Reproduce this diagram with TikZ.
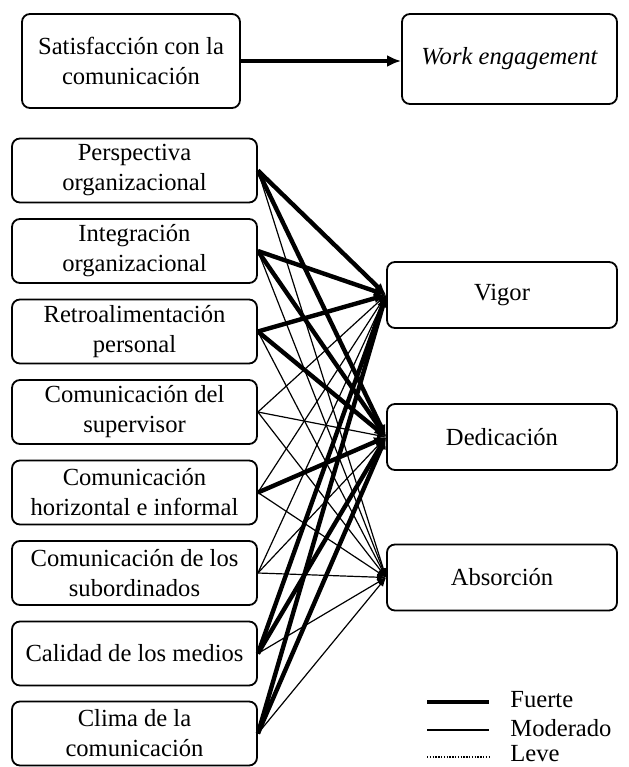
\documentclass[tikz,border=0pt]{standalone}
\usepackage{fontspec}
\setmainfont{Liberation Serif}
\usetikzlibrary{arrows.meta}
\begin{document}
\begin{tikzpicture}[x=0.5pt,y=-0.5pt,
  box/.style={draw,line width=0.9pt,rounded corners=4pt,align=center,inner sep=0pt,font=\fontsize{12.3}{15}\selectfont},
  lbox/.style={box,minimum width=122.5pt,minimum height=32pt},
  rbox/.style={box,minimum width=115pt,minimum height=33pt},
  strong/.style={line width=2.2pt,-{Latex[length=6pt,width=5pt]}},
  moderate/.style={line width=0.6pt,-{Latex[length=4.5pt,width=3.5pt]}},
  leve/.style={line width=0.8pt,dash pattern=on 0.7pt off 0.7pt},
  legtext/.style={anchor=west,inner sep=0pt,font=\fontsize{12.3}{15}\selectfont}
  ]
\useasboundingbox (0,0) rectangle (628,767);

% top
\node[box,minimum width=109pt,minimum height=47pt] (sat) at (131,61) {Satisfacción con la\\comunicación};
\node[box,minimum width=107.5pt,minimum height=45pt] (we) at (509.5,59) {\itshape Work engagement};
\draw[line width=2pt,-{Latex[length=7pt,width=6pt]}] (sat.east) -- (sat.east -| we.west);

% left boxes
\node[lbox] (b1) at (134.5,170.5) {Perspectiva\\organizacional};
\node[lbox] (b2) at (134.5,251) {Integración\\organizacional};
\node[lbox] (b3) at (134.5,331.5) {Retroalimentación\\personal};
\node[lbox] (b4) at (134.5,412) {Comunicación del\\supervisor};
\node[lbox] (b5) at (134.5,492.5) {Comunicación\\horizontal e informal};
\node[lbox] (b6) at (134.5,573) {Comunicación de los\\subordinados};
\node[lbox] (b7) at (134.5,653.5) {Calidad de los medios};
\node[lbox] (b8) at (134.5,733.5) {Clima de la\\comunicación};

% right boxes
\node[rbox] (v) at (502,295) {Vigor};
\node[rbox] (d) at (502,437) {Dedicación};
\node[rbox] (a) at (502,577.5) {Absorción};

% connectors
\foreach \s/\t in {b1/a,b2/a,b3/a,b4/v,b4/d,b4/a,b5/v,b5/a,b6/v,b6/d,b6/a,b7/a,b8/a}
  \draw[moderate] (\s.east) -- (\t.west);
\foreach \s/\t in {b1/v,b1/d,b2/v,b2/d,b3/v,b3/d,b5/d,b7/v,b7/d,b8/v,b8/d}
  \draw[strong] (\s.east) -- (\t.west);

% legend
\coordinate (f1) at (427,702); \coordinate (f2) at (489,702);
\coordinate (m1) at (427,730); \coordinate (m2) at (489,730);
\coordinate (l1) at (427,757); \coordinate (l2) at (489,757);
\draw[line width=1.7pt] (f1) -- (f2);
\draw[line width=1pt] (m1) -- (m2);
\draw[leve] (l1) -- (l2);
\node[legtext] (tf) at (510,700) {Fuerte};
\node[legtext] (tm) at (510,728) {Moderado};
\node[legtext] (tl) at (510,754) {Leve};
\end{tikzpicture}
\end{document}
